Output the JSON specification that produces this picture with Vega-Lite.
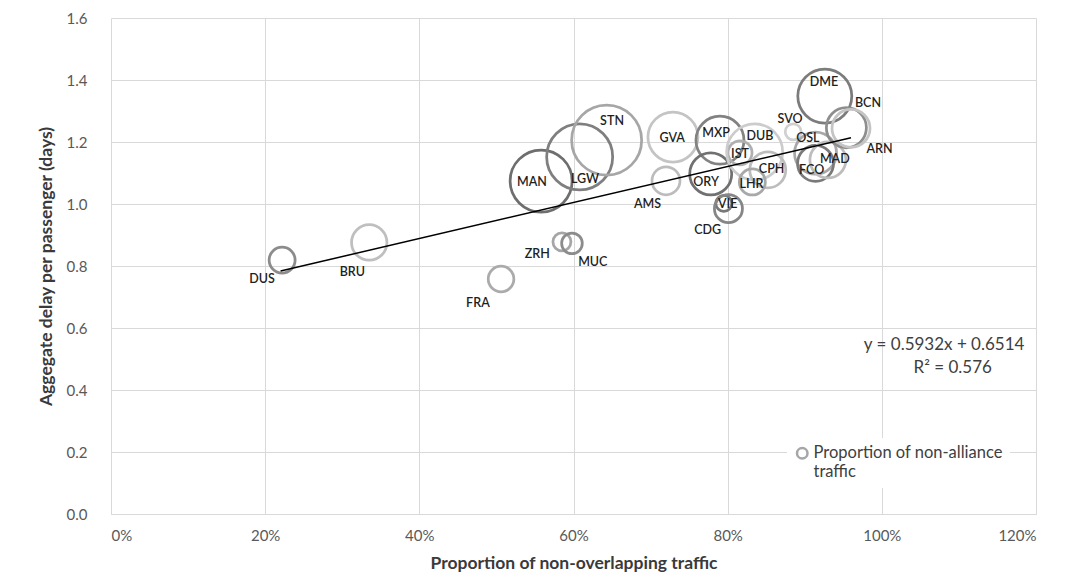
{
  "$schema": "https://vega.github.io/schema/vega-lite/v6.json",
  "width": 925,
  "height": 496,
  "autosize": {"type": "none"},
  "padding": {"left": 111, "top": 18, "right": 29, "bottom": 67},
  "background": "white",
  "config": {
    "font": "Lato",
    "view": {"stroke": null},
    "axis": {
      "gridColor": "#d9d9d9",
      "gridWidth": 1,
      "ticks": false,
      "labelColor": "#595959",
      "labelFontSize": 15,
      "labelFont": "Lato",
      "titleFont": "Lato",
      "titleFontSize": 17.5,
      "titleFontWeight": "bold",
      "titleColor": "#3a3a3a"
    }
  },
  "datasets": {
    "airports": [
      {"airport": "DUS", "x": 0.222, "y": 0.819, "np": 0.138, "lx": 0.196, "ly": 0.758},
      {"airport": "BRU", "x": 0.335, "y": 0.876, "np": 0.256, "lx": 0.313, "ly": 0.781},
      {"airport": "FRA", "x": 0.506, "y": 0.758, "np": 0.134, "lx": 0.476, "ly": 0.681},
      {"airport": "ZRH", "x": 0.585, "y": 0.878, "np": 0.066, "lx": 0.553, "ly": 0.839},
      {"airport": "MUC", "x": 0.598, "y": 0.873, "np": 0.087, "lx": 0.625, "ly": 0.813},
      {"airport": "MAN", "x": 0.558, "y": 1.074, "np": 0.785, "lx": 0.546, "ly": 1.071},
      {"airport": "LGW", "x": 0.608, "y": 1.152, "np": 0.889, "lx": 0.615, "ly": 1.081},
      {"airport": "STN", "x": 0.643, "y": 1.206, "np": 1.0, "lx": 0.650, "ly": 1.268},
      {"airport": "GVA", "x": 0.729, "y": 1.216, "np": 0.51, "lx": 0.728, "ly": 1.213},
      {"airport": "AMS", "x": 0.720, "y": 1.075, "np": 0.16, "lx": 0.696, "ly": 1.0},
      {"airport": "MXP", "x": 0.790, "y": 1.206, "np": 0.47, "lx": 0.785, "ly": 1.229},
      {"airport": "ORY", "x": 0.778, "y": 1.097, "np": 0.36, "lx": 0.772, "ly": 1.071},
      {"airport": "IST", "x": 0.816, "y": 1.165, "np": 0.118, "lx": 0.816, "ly": 1.161},
      {"airport": "DUB", "x": 0.835, "y": 1.168, "np": 0.64, "lx": 0.842, "ly": 1.219},
      {"airport": "CPH", "x": 0.852, "y": 1.110, "np": 0.264, "lx": 0.857, "ly": 1.113},
      {"airport": "LHR", "x": 0.832, "y": 1.071, "np": 0.138, "lx": 0.831, "ly": 1.065},
      {"airport": "VIE", "x": 0.795, "y": 1.002, "np": 0.052, "lx": 0.800, "ly": 1.0},
      {"airport": "CDG", "x": 0.801, "y": 0.985, "np": 0.16, "lx": 0.774, "ly": 0.916},
      {"airport": "SVO", "x": 0.885, "y": 1.233, "np": 0.052, "lx": 0.881, "ly": 1.274},
      {"airport": "OSL", "x": 0.914, "y": 1.164, "np": 0.36, "lx": 0.904, "ly": 1.213},
      {"airport": "FCO", "x": 0.914, "y": 1.131, "np": 0.264, "lx": 0.909, "ly": 1.11},
      {"airport": "MAD", "x": 0.930, "y": 1.142, "np": 0.264, "lx": 0.939, "ly": 1.145},
      {"airport": "DME", "x": 0.926, "y": 1.348, "np": 0.595, "lx": 0.925, "ly": 1.394},
      {"airport": "BCN", "x": 0.954, "y": 1.246, "np": 0.327, "lx": 0.982, "ly": 1.326},
      {"airport": "ARN", "x": 0.960, "y": 1.244, "np": 0.295, "lx": 0.997, "ly": 1.177}
    ],
    "trend": [
      {"x": 0.22, "y": 0.784},
      {"x": 0.96, "y": 1.214}
    ]
  },
  "layer": [
    {
      "data": {"name": "airports"},
      "mark": {"type": "point", "shape": "circle", "filled": false, "strokeWidth": 2.75, "opacity": 1},
      "encoding": {
        "x": {
          "field": "x", "type": "quantitative",
          "scale": {"domain": [0, 1.2], "nice": false},
          "axis": {"values": [0, 0.2, 0.4, 0.6, 0.8, 1.0, 1.2], "format": ".0%", "labelPadding": 14, "domainColor": "#d9d9d9", "titlePadding": 11},
          "title": "Proportion of non-overlapping traffic"
        },
        "y": {
          "field": "y", "type": "quantitative",
          "scale": {"domain": [0, 1.6], "nice": false},
          "axis": {"values": [0, 0.2, 0.4, 0.6, 0.8, 1.0, 1.2, 1.4, 1.6], "format": ".1f", "domain": false, "labelPadding": 24, "titlePadding": 11},
          "title": "Aggegate delay per passenger (days)"
        },
        "size": {
          "field": "np", "type": "quantitative",
          "scale": {"type": "linear", "domain": [0, 1], "range": [0, 4900], "zero": true},
          "legend": null
        },
        "color": {
          "field": "airport", "type": "nominal",
          "scale": {
            "domain": ["DUS","BRU","FRA","ZRH","MUC","MAN","LGW","STN","GVA","AMS","MXP","ORY","IST","DUB","CPH","LHR","VIE","CDG","SVO","OSL","FCO","MAD","DME","BCN","ARN"],
            "range": ["#8c8c8c","#bfbfbf","#ababab","#a6a6a6","#8c8c8c","#6e6e6e","#7f7f7f","#a6a6a6","#c4c4c4","#bcbcbc","#828282","#707070","#b0b0b0","#cccccc","#bdbdbd","#a8a8a8","#787878","#868686","#d0d0d0","#a8a8a8","#7a7a7a","#bdbdbd","#7c7c7c","#8e8e8e","#c4c4c4"]
          },
          "legend": {
            "values": ["STN"],
            "title": null,
            "orient": "none",
            "legendX": 676,
            "legendY": 420,
            "padding": 7,
            "fillColor": "white",
            "symbolType": "circle",
            "symbolSize": 110,
            "symbolStrokeWidth": 2.5,
            "labelFont": "Lato",
            "labelFontSize": 16.5,
            "labelColor": "#404040",
            "labelLimit": 400,
            "labelOffset": 3,
            "labelBaseline": "middle",
            "labelExpr": "['Proportion of non-alliance', 'traffic']"
          }
        }
      }
    },
    {
      "data": {"name": "trend"},
      "mark": {"type": "line", "color": "#000000", "strokeWidth": 1.5},
      "encoding": {
        "x": {"field": "x", "type": "quantitative"},
        "y": {"field": "y", "type": "quantitative"}
      }
    },
    {
      "data": {"name": "airports"},
      "mark": {"type": "text", "font": "Lato", "fontSize": 12.5, "fontWeight": 600, "color": "#1f1f1f", "align": "center", "baseline": "middle"},
      "encoding": {
        "x": {"field": "lx", "type": "quantitative"},
        "y": {"field": "ly", "type": "quantitative"},
        "text": {"field": "airport", "type": "nominal"}
      }
    },
    {
      "data": {"values": [{"eq": "y = 0.5932x + 0.6514", "r2": "R² = 0.576"}]},
      "mark": {"type": "text", "font": "Lato", "fontSize": 17, "color": "#404040", "align": "right", "baseline": "middle"},
      "encoding": {
        "x": {"datum": 1.185},
        "y": {"datum": 0.545},
        "text": {"field": "eq", "type": "nominal"}
      }
    },
    {
      "data": {"values": [{"eq": "y = 0.5932x + 0.6514", "r2": "R² = 0.576"}]},
      "mark": {"type": "text", "font": "Lato", "fontSize": 17, "color": "#404040", "align": "center", "baseline": "middle"},
      "encoding": {
        "x": {"datum": 1.092},
        "y": {"datum": 0.471},
        "text": {"field": "r2", "type": "nominal"}
      }
    }
  ]
}
